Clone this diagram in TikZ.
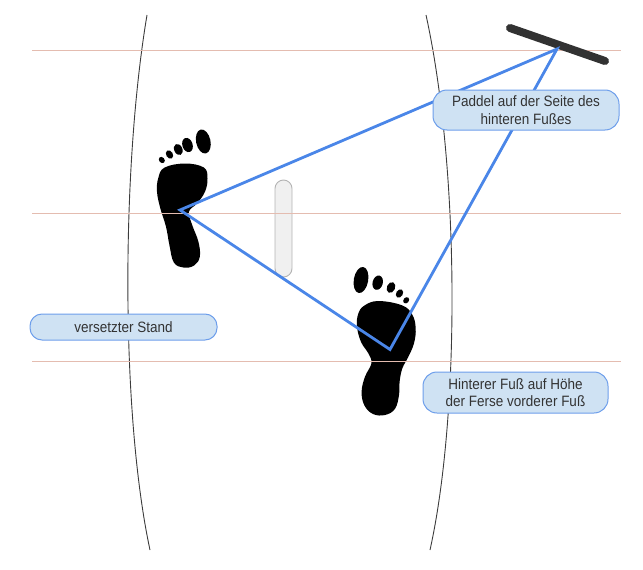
\documentclass[tikz,border=0pt]{standalone}
\usepackage{fontspec}
\setmainfont{Liberation Sans}
\newfontfamily\boxfont[FakeStretch=0.9]{Liberation Sans}
\definecolor{guidec}{RGB}{228,188,176}
\definecolor{boardc}{RGB}{60,60,60}
\definecolor{tric}{RGB}{74,134,232}
\definecolor{boxfill}{RGB}{207,226,243}
\definecolor{boxdraw}{RGB}{109,158,235}
\definecolor{txtc}{RGB}{51,51,51}
\definecolor{finfill}{RGB}{240,240,240}
\definecolor{findraw}{RGB}{180,180,180}
\definecolor{paddlec}{RGB}{50,50,50}
\begin{document}
\begin{tikzpicture}[x=1pt,y=-1pt,
  guide/.style={draw=guidec, line width=1pt},
  board/.style={draw=boardc, line width=0.9pt},
  tri/.style={draw=tric, line width=2.8pt, line join=miter},
  paddle/.style={draw=paddlec, line width=8pt, line cap=round},
  fin/.style={draw=findraw, fill=finfill, line width=0.9pt, rounded corners=8.5pt, minimum width=17pt, minimum height=97pt, inner sep=0pt},
  callout/.style={draw=boxdraw, fill=boxfill, line width=1pt, text=txtc, align=center, font=\boxfont\fontsize{15}{17.7}\selectfont, inner sep=0pt},
  footc/.style={fill=black},
]
\useasboundingbox (0,0) rectangle (643,570);

% board outline
\draw[board] (147,15) .. controls (121,170) and (121,415) .. (150,550);
\draw[board] (426,15) .. controls (460,170) and (460,415) .. (430,550);

% fin
\node[fin] (finbox) at (283.5,228.5) {};

% front foot (left)
\fill[footc] plot[smooth cycle, tension=0.65] coordinates {
  (185,163.5) (203.8,167.5) (207.5,178.3) (205,191.7) (197.2,203.3)
  (189,211.7) (192.2,225) (198.4,241.7) (199.8,256.7) (194,265.6)
  (183.3,267.5) (173.8,262.4) (169.4,245) (166,226.7) (160.3,208.3)
  (157,191.7) (158.3,178) (164.5,167.6)};
\fill[footc, shift={(203.3,141.5)}, rotate=12] (0,0) ellipse (7.2 and 12.2);
\fill[footc, shift={(187.5,145)}, rotate=18] (0,0) ellipse (5.1 and 7.3);
\fill[footc, shift={(178.3,149.5)}, rotate=24] (0,0) ellipse (4.1 and 5.8);
\fill[footc, shift={(169.5,154.5)}, rotate=32] (0,0) ellipse (3.3 and 4.5);
\fill[footc, shift={(161.8,160)}, rotate=40] (0,0) ellipse (2.7 and 3.4);

% back foot (right)
\fill[footc] plot[smooth cycle, tension=0.65] coordinates {
  (378.3,301) (402,305.3) (412.3,314.6) (415.7,328.3) (414,343.3)
  (408.3,356.9) (402.3,368.5) (399.6,381.7) (399,395) (395,408.8)
  (385,415) (373,414) (364.4,405.4) (361.6,391.7) (365,376.7)
  (371.4,363.3) (368.4,353.5) (361,341.9) (357,326.7) (358.3,313.6) (364.5,305.5)};
\fill[footc, shift={(361,280)}, rotate=-10] (0,0) ellipse (7.2 and 13.2);
\fill[footc, shift={(377.7,282.7)}, rotate=-15] (0,0) ellipse (5.1 and 7.3);
\fill[footc, shift={(391,287.5)}, rotate=-24] (0,0) ellipse (4.1 and 5.6);
\fill[footc, shift={(399.5,293.5)}, rotate=-32] (0,0) ellipse (3.3 and 4.5);
\fill[footc, shift={(406.2,300.3)}, rotate=-40] (0,0) ellipse (2.7 and 3.4);

% guide lines
\draw[guide] (32,50) -- (621,50);
\draw[guide] (32,213) -- (621,213);
\draw[guide] (32,361) -- (621,361);

% paddle
\coordinate (pa) at (510,28);
\coordinate (pb) at (605,61);
\draw[paddle] (pa) -- (pb);

% triangle
\coordinate (A) at (180,210);
\coordinate (B) at (390,349.5);
\coordinate (C) at (557,49);
\draw[tri] (A) -- (B) -- (C) -- cycle;

% callouts
\node[callout, minimum width=186pt, minimum height=40pt, rounded corners=14pt] (paddel) at (526,110)
  {Paddel auf der Seite des\\hinteren Fußes};
\node[callout, minimum width=187pt, minimum height=26pt, rounded corners=12pt] (stand) at (123.5,327)
  {versetzter Stand};
\node[callout, minimum width=185pt, minimum height=41pt, rounded corners=14pt] (hinten) at (515.5,392.5)
  {Hinterer Fuß auf Höhe\\der Ferse vorderer Fuß};
\end{tikzpicture}
\end{document}
